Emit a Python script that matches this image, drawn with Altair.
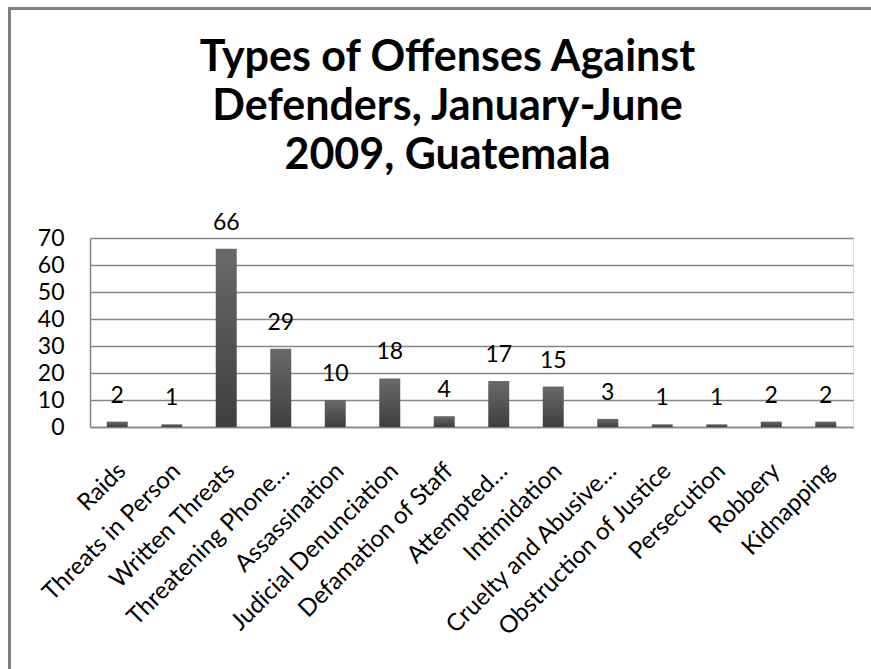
import altair as alt
import pandas as pd

categories = [
    "Raids", "Threats in Person", "Written Threats", "Threatening Phone…",
    "Assassination", "Judicial Denunciation", "Defamation of Staff",
    "Attempted…", "Intimidation", "Cruelty and Abusive…",
    "Obstruction of Justice", "Persecution", "Robbery", "Kidnapping",
]
counts = [2, 1, 66, 29, 10, 18, 4, 17, 15, 3, 1, 1, 2, 2]
y_ticks = [0, 10, 20, 30, 40, 50, 60, 70]
title_lines = ["Types of Offenses Against", "Defenders, January-June", "2009, Guatemala"]

df = pd.DataFrame({"category": categories, "count": counts})

FONT = "Lato"
GRAY = "#868686"

x_enc = alt.X(
    "category:N", sort=categories, title=None,
    scale=alt.Scale(paddingInner=0, paddingOuter=0),
    axis=alt.Axis(labelAngle=-45, labelAlign="right", labelBaseline="middle",
                  labelPadding=40, labelOffset=5, ticks=False, domainColor=GRAY,
                  domainWidth=1.5,
                  labelFont=FONT, labelFontSize=24, labelColor="#000000",
                  labelLimit=400, labelOverlap=False),
)
y_enc = alt.Y(
    "count:Q", title=None,
    scale=alt.Scale(domain=[0, 70], nice=False),
    axis=alt.Axis(values=y_ticks, tickCount=8, ticks=False, domainColor=GRAY,
                  domainWidth=1.5, gridColor=GRAY, gridWidth=1.5,
                  labelFont=FONT, labelFontSize=23, labelColor="#000000",
                  labelPadding=26, labelOverlap=False, labelBound=False),
)

bars = alt.Chart(df).mark_bar(
    width=alt.RelativeBandSize(0.385),
    color=alt.Gradient(gradient="linear", x1=0, y1=0, x2=0, y2=1,
                       stops=[alt.GradientStop(color="#6a6a6a", offset=0),
                              alt.GradientStop(color="#3e3e3e", offset=1)]),
).encode(x=x_enc, y=y_enc)

labels = alt.Chart(df).mark_text(
    baseline="bottom", dy=-14, font=FONT, fontSize=23, color="#000000"
).encode(x=alt.X("category:N", sort=categories), y="count:Q", text="count:Q")

frame_top = alt.Chart(df).mark_rule(color="#808080", strokeWidth=3, clip=False).encode(
    x=alt.value(-82), x2=alt.value(790), y=alt.value(-229.5))
frame_left = alt.Chart(df).mark_rule(color="#808080", strokeWidth=3, clip=False).encode(
    x=alt.value(-80.5), y=alt.value(-231), y2=alt.value(440))

chart = alt.layer(bars, labels, frame_top, frame_left).properties(
    width=763, height=189,
    title=alt.TitleParams(text=title_lines, font=FONT, fontSize=43, fontWeight="bold",
                          color="#000000", anchor="middle", dx=-24, dy=172, offset=0,
                          lineHeight=49),
    autosize=alt.AutoSizeParams(type="none"),
    padding={"left": 90, "top": 238, "right": 18, "bottom": 242},
).configure_view(stroke=None).configure(background="white")

chart.save("out.html", embed_options={"renderer": "svg", "actions": False})
